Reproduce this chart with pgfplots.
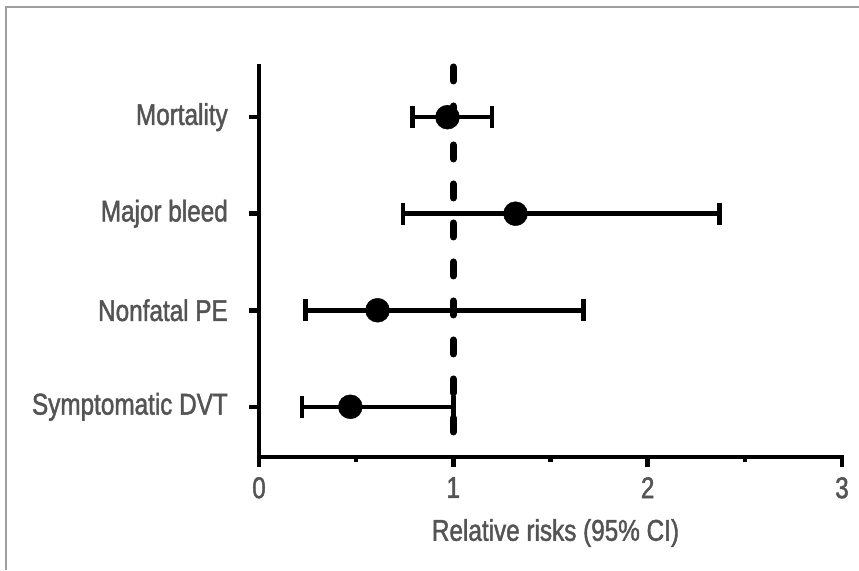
\documentclass[border=0pt]{standalone}
\usepackage{fontspec}
\setmainfont{Liberation Sans}[FakeStretch=0.81, FakeBold=1.5]
\usepackage{pgfplots}
\pgfplotsset{compat=1.18}
\definecolor{txt}{rgb}{0.33,0.33,0.33}
\definecolor{framec}{rgb}{0.62,0.62,0.62}
\begin{document}
\begin{tikzpicture}[x=1pt,y=1pt]
\useasboundingbox (0,0) rectangle (859,570);
\fill[white] (0,0) rectangle (859,570);
\draw[framec, line width=2pt] (6,0) -- (6,563) -- (859,563);
\begin{axis}[
  at={(259pt,113pt)}, anchor=south west,
  scale only axis, width=583pt, height=391pt,
  xmin=0, xmax=3, ymin=0.48, ymax=4.53,
  clip=false,
  axis x line*=bottom, axis y line*=left,
  axis line style={line width=4.5pt, black, line cap=rect},
  xtick={0,1,2,3}, minor xtick={0.5,1.5,2.5},
  ytick={1,2,3,4},
  yticklabels={Symptomatic DVT, Nonfatal PE, Major bleed, Mortality},
  tick align=outside,
  major tick length=10pt, minor tick length=5pt,
  every tick/.style={black, line width=4.5pt},
  /pgf/number format/assume math mode=true,
  ticklabel style={font=\fontsize{30}{34}\selectfont, text=txt},
  xticklabel style={inner sep=0pt, yshift=-10pt},
  yticklabel style={inner sep=0pt, xshift=-21pt},
  xlabel={Relative risks (95\% CI)},
  xlabel style={font=\fontsize{30}{34}\selectfont, text=txt, at={(axis description cs:0.5,0)}, anchor=center, yshift=-76pt, xshift=5pt},
]
\addplot[black, line width=7pt, dash pattern=on 14pt off 25pt, line cap=round] coordinates {(1,4.52) (1,0.5)};
\addplot[black, only marks, mark=*, mark size=12pt, mark options={fill=black, solid},
  error bars/.cd, x dir=both, x explicit, error mark=|,
  error bar style={line width=4.5pt, black},
  error mark options={line width=4.5pt, mark size=11pt, black}]
coordinates {
  (0.97,4) += (0.23,0) -= (0.18,0)
  (1.32,3) += (1.05,0) -= (0.58,0)
  (0.61,2) += (1.06,0) -= (0.37,0)
  (0.47,1) += (0.53,0) -= (0.25,0)
};
\end{axis}
\end{tikzpicture}
\end{document}
